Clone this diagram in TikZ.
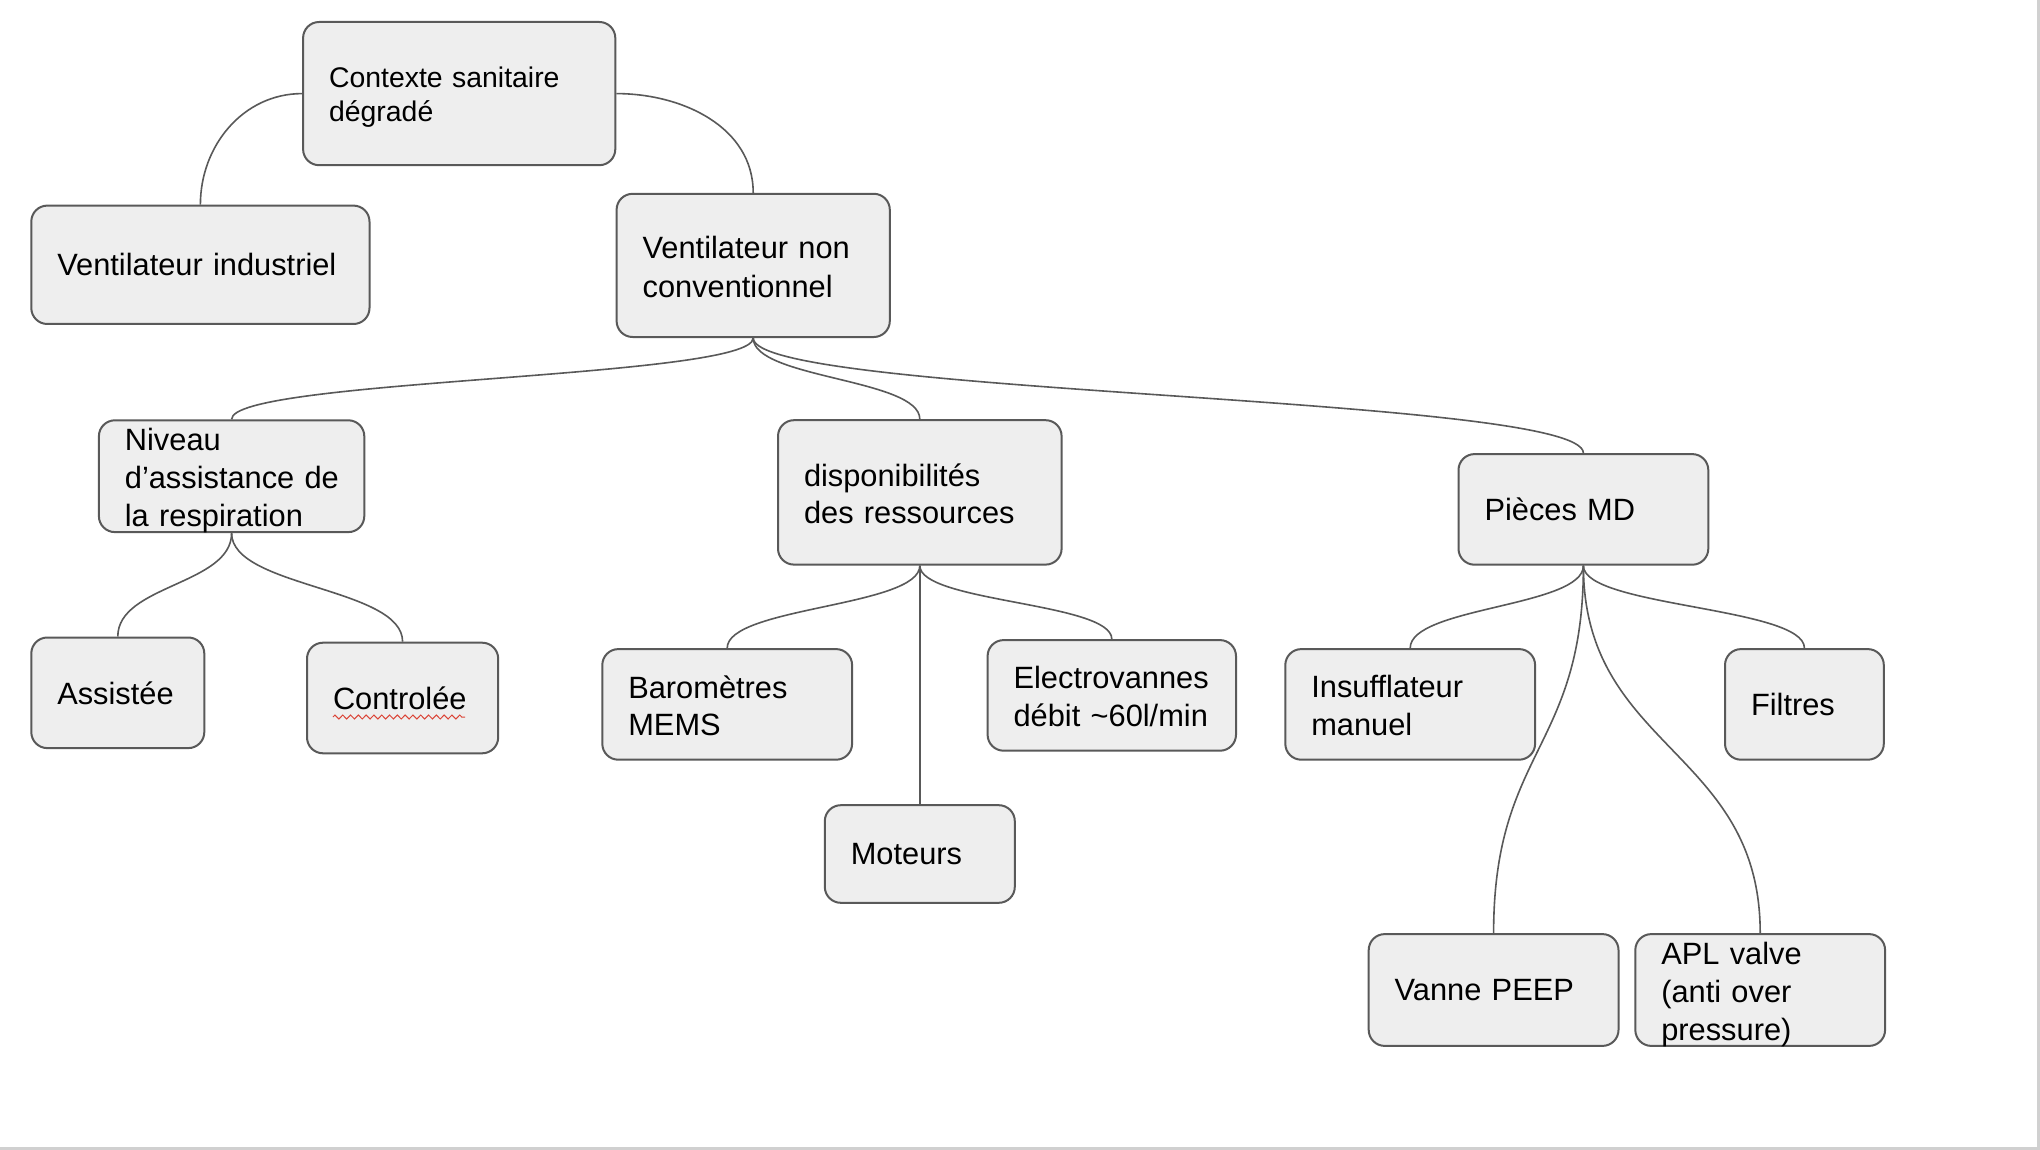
\documentclass[tikz,border=0pt]{standalone}
\usepackage{fontspec}
\setmainfont{Liberation Sans}
\usetikzlibrary{calc,decorations.pathmorphing}
\definecolor{boxfill}{HTML}{EEEEEE}
\definecolor{boxline}{HTML}{595959}
\definecolor{edgegray}{HTML}{D0D0D0}
\definecolor{spellred}{HTML}{DB4437}
\tikzset{
  box/.style={draw=boxline, fill=boxfill, line width=1pt, rounded corners=8pt,
    align=left, inner xsep=13pt, inner ysep=0pt,
    font=\fontsize{15.4pt}{18.9pt}\selectfont, tlower=0.7pt},
  onebox/.style={box, tlower=1.3pt},
  tlower/.style={execute at end node={\par\vspace*{-2\dimexpr#1\relax}}},
  conn/.style={draw=boxline, line width=0.8pt},
}
\newcommand\vconn[2]{%
  \path ($(#1.south)!0.5!(#2.north)$) coordinate (mid);
  \draw[conn] (#1.south) .. controls (#1.south |- mid) and (#2.north |- mid) .. (#2.north);}
\begin{document}
\begin{tikzpicture}[x=1pt,y=-1pt]
\useasboundingbox (0,0) rectangle (1020,575);
\fill[white] (0,0) rectangle (1020,575);
\fill[edgegray] (0,573.5) rectangle (1020,575);
\fill[edgegray] (1018.5,0) rectangle (1020,575);

\node[box, minimum width=156.1pt, minimum height=71.6pt, text width=130.1pt,
  font=\fontsize{14.2pt}{16.9pt}\selectfont, tlower=1pt] (ctx) at (229.6,46.8) {Contexte~sanitaire\\dégradé};
\node[onebox, minimum width=169.1pt, minimum height=59.2pt, text width=143.1pt] (vind) at (100.2,132.4) {Ventilateur~industriel};
\node[box, minimum width=136.6pt, minimum height=71.6pt, text width=110.6pt,
  font=\fontsize{15.4pt}{19.5pt}\selectfont, tlower=0pt] (vnc) at (376.6,132.7) {Ventilateur~non\\conventionnel};
\node[box, minimum width=132.7pt, minimum height=55.9pt, text width=106.7pt, tlower=1.4pt] (niv) at (115.8,238.1) {Niveau\\d’assistance~de\\la~respiration};
\node[box, minimum width=141.8pt, minimum height=72.2pt, text width=115.8pt] (dispo) at (459.9,246.2) {disponibilités\\des~ressources};
\node[onebox, minimum width=124.9pt, minimum height=55.3pt, text width=98.9pt] (pieces) at (791.7,254.7) {Pièces~MD};
\node[onebox, minimum width=86.5pt, minimum height=55.3pt, text width=60.5pt] (assist) at (58.9,346.4) {Assistée};
\node[onebox, minimum width=95.6pt, minimum height=55.3pt, text width=69.6pt] (ctrl) at (201.3,349.0) {Controlée};
\node[box, minimum width=124.9pt, minimum height=55.3pt, text width=98.9pt] (baro) at (363.6,352.2) {Baromètres\\MEMS};
\node[box, minimum width=124.2pt, minimum height=55.3pt, text width=98.2pt] (elec) at (555.9,347.7) {Electrovannes\\débit~\textasciitilde60l/min};
\node[onebox, minimum width=95.0pt, minimum height=48.8pt, text width=69.0pt] (mot) at (459.9,427.0) {Moteurs};
\node[box, minimum width=124.9pt, minimum height=55.3pt, text width=98.9pt] (insuf) at (705.1,352.2) {Insufflateur\\manuel};
\node[onebox, minimum width=79.4pt, minimum height=55.3pt, text width=53.4pt] (filt) at (902.2,352.2) {Filtres};
\node[onebox, minimum width=124.9pt, minimum height=55.9pt, text width=98.9pt] (peep) at (746.8,495.0) {Vanne~PEEP};
\node[box, minimum width=124.9pt, minimum height=55.9pt, text width=98.9pt, tlower=1.6pt] (apl) at (880.1,495.0) {APL~valve\\(anti~over\\pressure)};

\draw[conn] (ctx.west) to[out=180,in=90] (vind.north);
\draw[conn] (ctx.east) to[out=0,in=90] (vnc.north);
\vconn{vnc}{niv}
\vconn{vnc}{dispo}
\vconn{vnc}{pieces}
\vconn{niv}{assist}
\vconn{niv}{ctrl}
\vconn{dispo}{baro}
\draw[conn] (dispo.south) -- (mot.north);
\vconn{dispo}{elec}
\vconn{pieces}{insuf}
\vconn{pieces}{filt}
\vconn{pieces}{peep}
\vconn{pieces}{apl}

\draw[spellred, line width=0.5pt, decorate, decoration={zigzag, amplitude=1pt, segment length=3.9pt}]
  ([shift={(13.5,9.5)}]ctrl.west) -- ([shift={(79.5,9.5)}]ctrl.west);
\end{tikzpicture}
\end{document}
